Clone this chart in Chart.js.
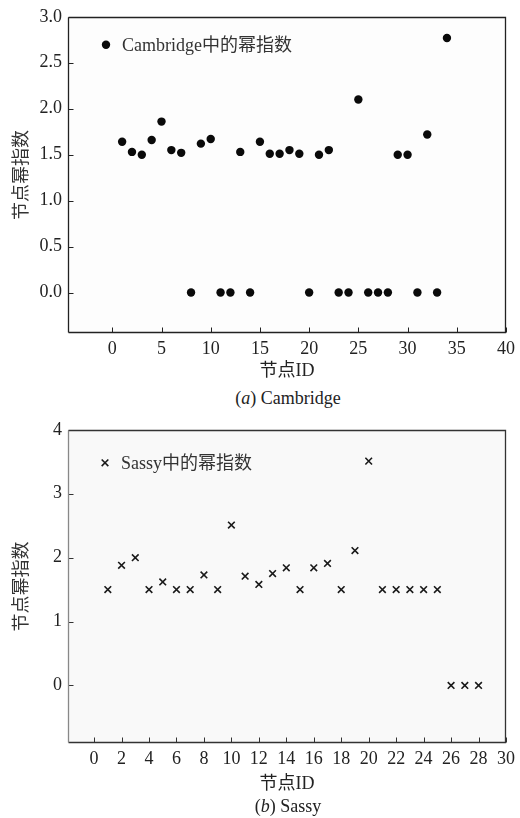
<!DOCTYPE html>
<html>
<head>
<meta charset="utf-8">
<script src="https://cdn.jsdelivr.net/npm/chart.js@4.4.1/dist/chart.umd.min.js"></script>
<style>
    body { margin: 0; background: #fff; width: 520px; height: 818px; position: relative; overflow: hidden; }
    .box { position: absolute; left: 0; width: 520px; height: 385px; }
    .cap { position: absolute; left: 68px; width: 440px; text-align: center; color: #222;
           font: 18px "Liberation Serif", "Noto Sans CJK SC", serif; line-height: 21px; }
</style>
</head>
<body>
<div class="box" style="top:0"><canvas id="chartA" width="520" height="385"></canvas></div>
<div class="cap" style="top:388px">(<i>a</i>) Cambridge</div>
<div class="box" style="top:413px"><canvas id="chartB" width="520" height="385"></canvas></div>
<div class="cap" style="top:796px">(<i>b</i>) Sassy</div>
<script>
// (a) Cambridge
const cambridgeIds = [1, 2, 3, 4, 5, 6, 7, 8, 9, 10, 11, 12, 13, 14, 15, 16, 17,
    18, 19, 20, 21, 22, 23, 24, 25, 26, 27, 28, 29, 30, 31, 32, 33, 34];
const cambridgeExp = [1.64, 1.53, 1.50, 1.66, 1.86, 1.55, 1.52, 0, 1.62, 1.67, 0, 0, 1.53, 0, 1.64, 1.51, 1.51,
    1.55, 1.51, 0, 1.50, 1.55, 0, 0, 2.10, 0, 0, 0, 1.50, 1.50, 0, 1.72, 0, 2.77];
const xTicksA = [0, 5, 10, 15, 20, 25, 30, 35, 40];
const yTicksA = [0, 0.5, 1.0, 1.5, 2.0, 2.5, 3.0];

// (b) Sassy
const sassyIds = [1, 2, 3, 4, 5, 6, 7, 8, 9, 10, 11, 12, 13, 14,
    15, 16, 17, 18, 19, 20, 21, 22, 23, 24, 25, 26, 27, 28];
const sassyExp = [1.50, 1.88, 2.00, 1.50, 1.62, 1.50, 1.50, 1.73, 1.50, 2.51, 1.71, 1.58, 1.75, 1.84,
    1.50, 1.84, 1.91, 1.50, 2.11, 3.51, 1.50, 1.50, 1.50, 1.50, 1.50, 0, 0, 0];
const xTicksB = [0, 2, 4, 6, 8, 10, 12, 14, 16, 18, 20, 22, 24, 26, 28, 30];
const yTicksB = [0, 1, 2, 3, 4];

const FONT = '"Liberation Serif", "Noto Sans CJK SC", serif';
const TEXT = '#222';

// box frame, inward tick marks and in-plot legend
const framePlugin = {
    id: 'frame',
    beforeDraw(chart, args, opts) {
        const a = chart.chartArea;
        chart.ctx.save();
        chart.ctx.fillStyle = opts.bg;
        chart.ctx.fillRect(a.left, a.top, a.width, a.height);
        chart.ctx.restore();
    },
    afterDraw(chart, args, opts) {
        const { ctx, chartArea: a, scales } = chart;
        const L = Math.round(a.left) + 0.5, T = Math.round(a.top) + 0.5;
        const R = Math.round(a.right) - 0.5, B = Math.round(a.bottom) - 0.5;
        ctx.save();
        ctx.strokeStyle = opts.color;
        ctx.lineWidth = 1;
        ctx.beginPath();
        scales.x.ticks.forEach(t => {
            const px = Math.round(scales.x.getPixelForValue(t.value)) + 0.5;
            ctx.moveTo(px, B);
            ctx.lineTo(px, B - 5);
        });
        scales.y.ticks.forEach(t => {
            const py = Math.round(scales.y.getPixelForValue(t.value)) + 0.5;
            ctx.moveTo(L, py);
            ctx.lineTo(L + 5, py);
        });
        ctx.stroke();
        ctx.lineWidth = 1.3;
        ctx.beginPath();
        ctx.moveTo(L, T); ctx.lineTo(R, T); ctx.lineTo(R, B); ctx.lineTo(L, B);
        ctx.stroke();
        ctx.strokeStyle = opts.leftColor;
        ctx.beginPath();
        ctx.moveTo(L, T); ctx.lineTo(L, B);
        ctx.stroke();

        // legend
        const lx = a.left + opts.legendX, ly = a.top + opts.legendY;
        const ds = chart.data.datasets[0];
        if (ds.pointStyle === 'circle') {
            ctx.fillStyle = ds.backgroundColor;
            ctx.beginPath();
            ctx.arc(lx, ly, ds.pointRadius, 0, Math.PI * 2);
            ctx.fill();
        } else {
            const r = ds.pointRadius * Math.SQRT1_2;
            ctx.strokeStyle = ds.borderColor;
            ctx.lineWidth = ds.borderWidth;
            ctx.beginPath();
            ctx.moveTo(lx - r, ly - r); ctx.lineTo(lx + r, ly + r);
            ctx.moveTo(lx + r, ly - r); ctx.lineTo(lx - r, ly + r);
            ctx.stroke();
        }
        ctx.fillStyle = '#333';
        ctx.font = '18px ' + FONT;
        ctx.textBaseline = 'middle';
        ctx.fillText(ds.label, lx + 16, ly + 1);
        ctx.restore();
    }
};

function makeScales(xMin, xMax, xTicks, yMin, yMax, yTicks, yFmt, xHeight) {
    return {
        x: {
            type: 'linear', min: xMin, max: xMax,
            afterBuildTicks: s => { s.ticks = xTicks.map(v => ({ value: v })); },
            afterFit: s => { s.height = xHeight; },
            grid: { display: false, drawTicks: false },
            border: { display: false },
            ticks: { font: { family: FONT, size: 18 }, color: TEXT, padding: 5, maxRotation: 0, autoSkip: false },
            title: { display: true, text: '节点ID', font: { family: FONT, size: 18 }, color: TEXT,
                     padding: { top: 4, bottom: 3 } }
        },
        y: {
            min: yMin, max: yMax,
            afterBuildTicks: s => { s.ticks = yTicks.map(v => ({ value: v })); },
            afterFit: s => { s.width = 68; },
            grid: { display: false, drawTicks: false },
            border: { display: false },
            ticks: { font: { family: FONT, size: 18 }, color: TEXT, padding: 6, callback: yFmt },
            title: { display: true, text: '节点幂指数', font: { family: FONT, size: 18 }, color: '#333',
                     padding: { top: 11, bottom: 4 } }
        }
    };
}

document.addEventListener('DOMContentLoaded', () => {
    // First chart
    new Chart(document.getElementById('chartA'), {
        type: 'scatter',
        data: {
            datasets: [{
                label: 'Cambridge中的幂指数',
                data: cambridgeIds.map((id, i) => ({ x: id, y: cambridgeExp[i] })),
                pointStyle: 'circle',
                pointRadius: 4.2,
                backgroundColor: '#0a0a0a',
                borderWidth: 0
            }]
        },
        options: {
            responsive: false,
            animation: false,
            layout: { padding: { left: 0, right: 12, top: 14, bottom: 0 } },
            scales: makeScales(-4.5, 40, xTicksA, -0.44, 3.0, yTicksA, v => v.toFixed(1), 52),
            plugins: {
                legend: { display: false },
                tooltip: { enabled: false },
                frame: { bg: '#fdfdfd', color: '#222', leftColor: '#222', legendX: 38, legendY: 28 }
            }
        },
        plugins: [framePlugin]
    });

    // Second chart
    new Chart(document.getElementById('chartB'), {
        type: 'scatter',
        data: {
            datasets: [{
                label: 'Sassy中的幂指数',
                data: sassyIds.map((id, i) => ({ x: id, y: sassyExp[i] })),
                pointStyle: 'crossRot',
                pointRadius: 4.7,
                borderColor: '#1a1a1a',
                borderWidth: 1.6
            }]
        },
        options: {
            responsive: false,
            animation: false,
            layout: { padding: { left: 0, right: 12, top: 14, bottom: 0 } },
            scales: makeScales(-1.9, 30, xTicksB, -0.9, 4, yTicksB, v => String(v), 55),
            plugins: {
                legend: { display: false },
                tooltip: { enabled: false },
                frame: { bg: '#f9f9f9', color: '#333', leftColor: '#888', legendX: 37, legendY: 33 }
            }
        },
        plugins: [framePlugin]
    });
});
</script>
</body>
</html>
